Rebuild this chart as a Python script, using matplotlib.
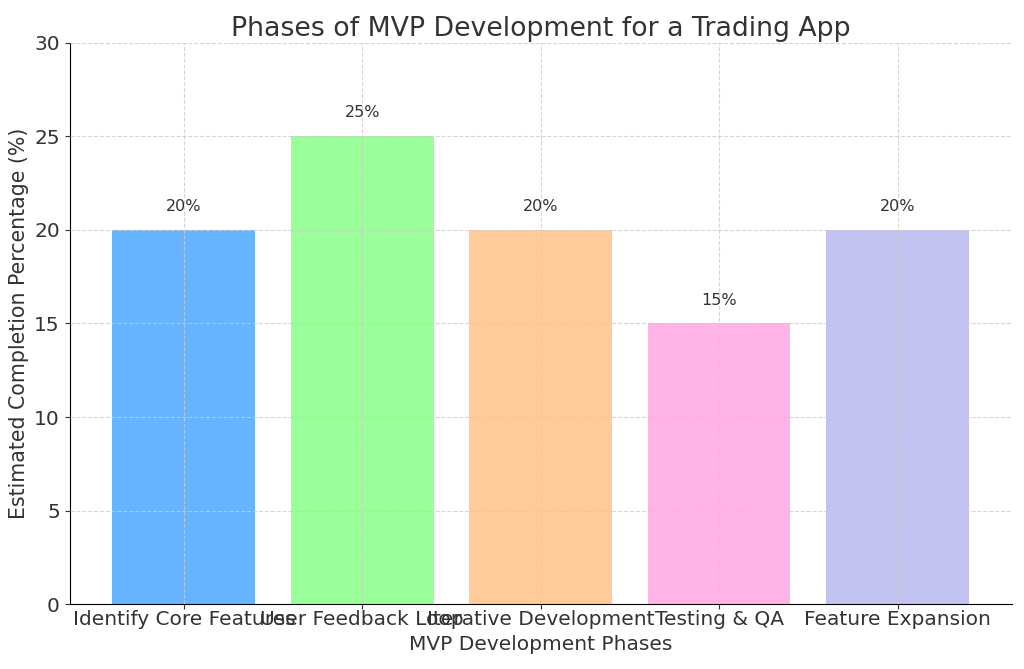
import matplotlib.pyplot as plt

phases = ["Identify Core Features", "User Feedback Loop", "Iterative Development",
          "Testing & QA", "Feature Expansion"]
percentages = [20, 25, 20, 15, 20]
colors = ["#66b3ff", "#99ff99", "#ffcc99", "#ffb3e6", "#c2c2f0"]

text_color = "#333333"
plt.rcParams["text.color"] = text_color
plt.rcParams["axes.labelcolor"] = text_color
plt.rcParams["xtick.color"] = text_color
plt.rcParams["ytick.color"] = text_color

fig = plt.figure(figsize=(10.24, 6.69), dpi=100)
ax = fig.add_axes([0.068, 0.097, 0.920, 0.839])

bars = ax.bar(phases, percentages, color=colors, width=0.8, zorder=1)

# percentage labels above each bar
for bar, pct in zip(bars, percentages):
    ax.text(bar.get_x() + bar.get_width() / 2, bar.get_height() + 1.25,
            f"{pct}%", ha="center", va="center", fontsize=11.5)

ax.set_ylim(0, 30)
ax.set_title("Phases of MVP Development for a Trading App", fontsize=19.3, pad=5)
ax.set_xlabel("MVP Development Phases", fontsize=14.5, labelpad=4)
ax.set_ylabel("Estimated Completion Percentage (%)", fontsize=14.8)
ax.tick_params(axis="both", labelsize=14.5)
ax.tick_params(axis="x", pad=1)
ax.grid(True, linestyle="--", color="#cccccc", alpha=0.8, zorder=2)
ax.set_axisbelow(False)
ax.spines["top"].set_visible(False)
ax.spines["right"].set_visible(False)

plt.savefig("out.png", dpi=100)
